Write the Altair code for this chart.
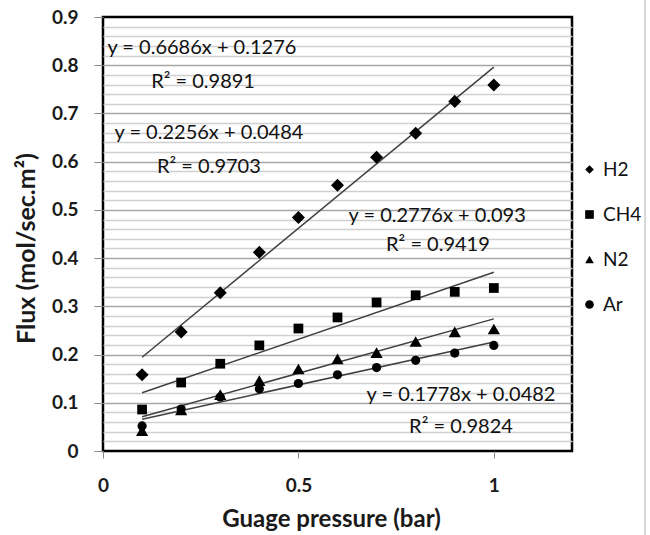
import altair as alt
import pandas as pd

# ---- data ----
series = ["H2", "CH4", "N2", "Ar"]
pressure = [0.1, 0.2, 0.3, 0.4, 0.5, 0.6, 0.7, 0.8, 0.9, 1.0]
flux_h2 = [0.158, 0.247, 0.328, 0.412, 0.484, 0.551, 0.609, 0.659, 0.725, 0.759]
flux_ch4 = [0.086, 0.142, 0.181, 0.219, 0.254, 0.277, 0.308, 0.323, 0.330, 0.338]
flux_n2 = [0.042, 0.085, 0.117, 0.146, 0.170, 0.191, 0.204, 0.227, 0.247, 0.253]
flux_ar = [0.052, 0.087, 0.112, 0.129, 0.140, 0.158, 0.173, 0.188, 0.203, 0.219]

slopes = [0.6686, 0.2776, 0.2256, 0.1778]
intercepts = [0.1276, 0.093, 0.0484, 0.0482]
fit_range = [0.1, 1.0]

eq_text = ["y = 0.6686x + 0.1276", "R² = 0.9891",
           "y = 0.2256x + 0.0484", "R² = 0.9703",
           "y = 0.2776x + 0.093", "R² = 0.9419",
           "y = 0.1778x + 0.0482", "R² = 0.9824"]
eq_x = [0.253, 0.256, 0.271, 0.271, 0.855, 0.857, 0.916, 0.916]
eq_y = [0.836, 0.765, 0.659, 0.589, 0.487, 0.427, 0.116, 0.050]

x_ticks = [0, 0.5, 1]
y_ticks = [round(i * 0.02, 2) for i in range(46)]

shapes = ["diamond", "square", "triangle-up", "circle"]
marker_sizes = [170, 95, 150, 85]

# ---- tables ----
all_flux = [flux_h2, flux_ch4, flux_n2, flux_ar]
pts = pd.DataFrame([
    {"series": s, "pressure": p, "flux": f}
    for s, vals in zip(series, all_flux)
    for p, f in zip(pressure, vals)
])
fits = pd.DataFrame([
    {"series": s, "pressure": x, "flux": m * x + b}
    for s, m, b in zip(series, slopes, intercepts)
    for x in fit_range
])
eqs = pd.DataFrame({"text": eq_text, "pressure": eq_x, "flux": eq_y})

FONT = "Lato"
major = "abs(datum.value*10 - round(datum.value*10)) < 0.001"

x_enc = alt.X("pressure:Q", scale=alt.Scale(domain=[0, 1.2], nice=False),
              axis=alt.Axis(values=x_ticks, grid=False, domain=False,
                            labelExpr="format(datum.value, '~g')",
                            title="Guage pressure (bar)", tickColor="#8a8a8a",
                            tickSize=7, labelPadding=18, titlePadding=12,
                            titleX=228, labelFlush=False))
y_enc = alt.Y("flux:Q", scale=alt.Scale(domain=[0, 0.9], nice=False),
              axis=alt.Axis(values=y_ticks, domain=False,
                            labelExpr=f"{major} ? format(datum.value, '.1~f') : ''",
                            labelOverlap=False, labelFlush=False,
                            tickColor="#8a8a8a", tickSize=9, labelPadding=16,
                            tickOpacity={"condition": {"test": major, "value": 1}, "value": 0},
                            gridColor={"condition": {"test": major, "value": "#a6a6a6"}, "value": "#d0d0d0"},
                            gridOpacity={"condition": {"test": "datum.value < 0.001 || datum.value > 0.899", "value": 0}, "value": 1},
                            gridWidth=1.7,
                            title="Flux  (mol/sec.m²)", titleFontSize=25,
                            titlePadding=12, titleY=231))

lines = alt.Chart(fits).mark_line(color="#404040", strokeWidth=1.5).encode(
    x=x_enc, y=y_enc, detail="series:N")

shape_enc = alt.Shape("series:N", sort=series,
                      scale=alt.Scale(domain=series, range=shapes),
                      legend=alt.Legend(title=None, orient="none", legendX=477, legendY=143,
                                        labelFont=FONT, labelFontSize=19, labelColor="#111111",
                                        symbolSize=75, symbolFillColor="black", symbolStrokeColor="black",
                                        symbolOpacity=1, rowPadding=25, labelOffset=4))

point_layers = [
    alt.Chart(pts).transform_filter(alt.datum.series == s)
    .mark_point(filled=True, opacity=1, color="black", size=sz)
    .encode(x=x_enc, y=y_enc, shape=shape_enc)
    for s, sz in zip(series, marker_sizes)
]

labels = alt.Chart(eqs).mark_text(font=FONT, fontSize=20, color="#111111",
                                  align="center", baseline="middle").encode(
    x=x_enc, y=y_enc, text="text:N")

frame_line = alt.Chart(eqs).mark_rule(color="#d9d9d9", strokeWidth=2).encode(
    x=alt.value(542), y=alt.value(-17), y2=alt.value(518))

chart = alt.layer(lines, *point_layers, labels, frame_line).properties(
    width=469, height=434,
    autosize=alt.AutoSizeParams(type="none"),
    padding={"left": 103, "top": 17, "right": 78, "bottom": 84},
    background="white",
).configure_view(stroke="black", strokeWidth=2.5).configure_axis(
    labelFont=FONT, labelFontSize=19, labelFontWeight="bold", labelColor="#1a1a1a",
    titleFont=FONT, titleFontSize=24, titleFontWeight="bold", titleColor="#1a1a1a",
)

chart.save("out.html", embed_options={"renderer": "svg", "actions": False})
